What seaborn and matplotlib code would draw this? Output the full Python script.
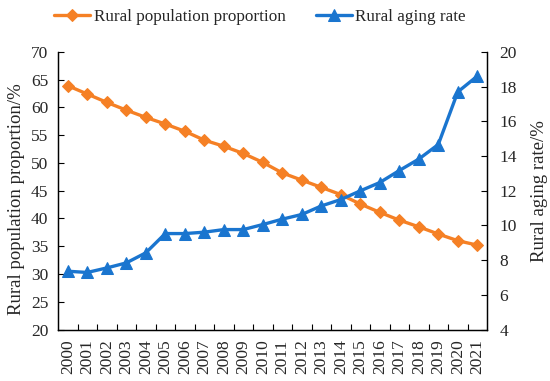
import matplotlib
matplotlib.use("Agg")
import matplotlib.pyplot as plt
import seaborn as sns
import pandas as pd
from matplotlib.ticker import FixedLocator, NullFormatter

years = [str(y) for y in range(2000, 2022)]
rural_pop = [63.9, 62.4, 60.9, 59.5, 58.2, 57.0, 55.7, 54.1, 53.0, 51.7, 50.1,
             48.2, 46.9, 45.6, 44.3, 42.6, 41.1, 39.7, 38.5, 37.2, 36.0, 35.2]
aging_rate = [7.36, 7.29, 7.55, 7.84, 8.42, 9.53, 9.53, 9.61, 9.76, 9.76, 10.05,
              10.36, 10.63, 11.12, 11.49, 11.99, 12.47, 13.16, 13.82, 14.66, 17.69, 18.6]

sns.set_theme(style="white")
plt.rcParams['font.family'] = ['Liberation Serif', 'DejaVu Serif']
plt.rcParams['mathtext.fontset'] = 'stix'

df = pd.DataFrame({"year": years, "pop": rural_pop, "aging": aging_rate})
orange = "#F58025"
blue = "#1A75CF"

fig = plt.figure(figsize=(5.5, 3.81), dpi=100)
ax = fig.add_axes([0.1055, 0.135, 0.78, 0.729])
ax2 = ax.twinx()

sns.lineplot(data=df, x="year", y="pop", ax=ax, color=orange, marker="D",
             markersize=6.5, linewidth=2.4, markeredgecolor=orange, sort=False,
             label="Rural population proportion", legend=False)
sns.lineplot(data=df, x="year", y="aging", ax=ax2, color=blue, marker="^",
             markersize=8.5, linewidth=2.4, markeredgecolor=blue, sort=False,
             label="Rural aging rate", legend=False)

ax.set_xlim(-0.5, len(years) - 0.5)
ax.set_ylim(20, 70)
ax.set_yticks(range(20, 71, 5))
ax2.set_ylim(4, 20)
ax2.set_yticks(range(4, 21, 2))

fs = 12.5
ax.set_xticks(range(len(years)))
ax.set_xticklabels(years, rotation=90, fontsize=fs)
ax.tick_params(axis='x', which='major', length=0, pad=7)
ax.xaxis.set_minor_locator(FixedLocator([i + 0.5 for i in range(len(years) - 1)]))
ax.xaxis.set_minor_formatter(NullFormatter())
ax.tick_params(axis='x', which='minor', direction='in', length=4, width=0.8, color='black', bottom=True)
ax.tick_params(axis='y', direction='in', length=4, width=0.8, color='black', labelsize=fs, left=True, pad=7)
ax2.tick_params(axis='y', direction='in', length=4, width=0.8, color='black', labelsize=fs, right=True, pad=9)

ax.set_xlabel("")
ax.set_ylabel("Rural population proportion/%", fontsize=13.5, labelpad=4)
ax.yaxis.label.set_y(0.47)
ax2.set_ylabel("Rural aging rate/%", fontsize=13.5, labelpad=10)

for a in (ax, ax2):
    a.spines["top"].set_visible(False)
    for s in ("left", "right", "bottom"):
        a.spines[s].set_color("black")
        a.spines[s].set_linewidth(0.9)
    a.grid(False)

h1, l1 = ax.get_legend_handles_labels()
h2, l2 = ax2.get_legend_handles_labels()
fig.legend(h1 + h2, l1 + l2, loc="upper center", bbox_to_anchor=(0.473, 1.018),
           ncol=2, frameon=False, fontsize=12.3, handlelength=2.1, columnspacing=1.8,
           handletextpad=0.2)

fig.savefig("out.png", dpi=100)
